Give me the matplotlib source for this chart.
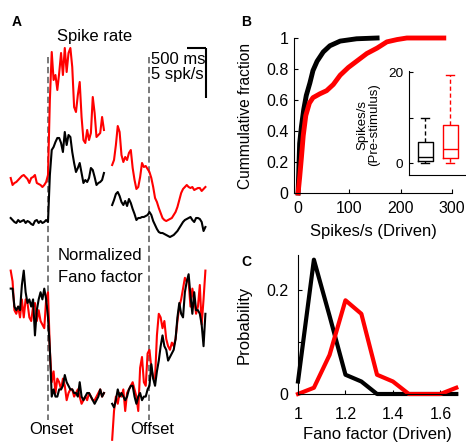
import matplotlib.pyplot as plt
import numpy as np

plt.rcParams['font.family'] = ['Liberation Sans', 'DejaVu Sans']

W, H = 466, 444

# ---------------- panel A: population traces (50 ms bins) ----------------
t_bins = np.arange(-1000, 1501, 50)          # ms around onset / offset
offset_shift = 2720                           # where the offset-aligned block sits

rate_red_on = [6.2, 5.5, 5.7, 5.8, 6.0, 6.2, 6.4, 6.5, 6.3, 6.1, 5.7, 6.2, 6.3, 6.5, 5.7,
               5.6, 5.5, 5.3, 5.5, 5.8, 6.5, 14.0, 18.8, 16.0, 16.5, 15.0, 16.7, 18.7, 16.5,
               19.2, 16.8, 18.7, 19.2, 17.3, 13.3, 12.8, 14.5, 15.8, 12.3, 10.0, 9.7, 11.0,
               10.0, 10.7, 14.3, 12.7, 10.3, 10.5, 10.7, 12.3, 11.0]
rate_black_on = [2.2, 2.0, 1.8, 1.7, 2.0, 1.8, 1.9, 2.0, 1.7, 1.9, 1.8, 1.6, 1.5, 1.9, 2.0,
                 1.7, 1.9, 1.7, 1.8, 2.0, 1.8, 6.5, 9.0, 9.3, 9.8, 10.2, 10.2, 9.7, 8.8, 10.8,
                 9.5, 10.5, 10.3, 8.8, 7.7, 6.8, 7.2, 7.7, 6.7, 5.7, 6.0, 5.8, 6.2, 7.2, 7.0,
                 6.3, 5.5, 5.7, 5.8, 6.0, 6.7]
rate_red_off = [7.5, 8.0, 9.5, 11.4, 10.8, 8.5, 7.8, 8.3, 8.0, 8.7, 9.0, 7.2, 6.0, 5.1, 5.3,
                6.3, 7.7, 7.3, 7.4, 7.1, 6.8, 6.2, 5.3, 4.2, 3.8, 3.2, 2.7, 2.2, 2.0, 1.9,
                2.0, 2.1, 2.2, 2.5, 2.8, 3.3, 4.0, 4.7, 5.1, 5.3, 5.5, 5.3, 5.2, 5.3, 5.0,
                5.1, 5.2, 5.2, 4.9, 5.1, 5.3]
rate_black_off = [3.5, 4.0, 4.6, 4.8, 4.4, 3.8, 3.5, 3.9, 3.4, 4.1, 3.7, 3.1, 2.6, 2.0, 2.2,
                  2.2, 2.3, 2.3, 2.4, 2.5, 2.8, 2.5, 1.9, 1.5, 1.1, 0.8, 0.7, 0.7, 0.6, 0.5,
                  0.4, 0.3, 0.4, 0.5, 0.7, 0.9, 1.2, 1.5, 1.8, 2.0, 2.1, 2.2, 2.3, 2.0, 1.8,
                  2.2, 2.2, 2.1, 1.8, 0.9, 1.3]

fano_red_on = [1.04, 1.01, 0.93, 0.92, 0.94, 0.91, 0.96, 0.91, 0.96, 0.95, 0.91, 0.90, 0.94,
               0.95, 0.90, 0.93, 0.90, 0.89, 0.88, 0.96, 0.98, 0.82, 0.73, 0.76, 0.70, 0.74,
               0.73, 0.71, 0.74, 0.72, 0.68, 0.70, 0.71, 0.71, 0.69, 0.70, 0.71, 0.69, 0.67,
               0.68, 0.69, 0.68, 0.70, 0.69, 0.68, 0.68, 0.69, 0.70, 0.71, 0.69, 0.70]
fano_black_on = [0.99, 0.99, 0.94, 0.93, 0.94, 0.93, 1.00, 1.04, 0.98, 0.95, 0.96, 0.94, 0.96,
                 0.86, 0.93, 0.96, 0.98, 0.96, 0.99, 0.96, 0.91, 0.82, 0.69, 0.71, 0.69, 0.69,
                 0.71, 0.71, 0.72, 0.75, 0.73, 0.72, 0.71, 0.71, 0.70, 0.70, 0.69, 0.73, 0.69,
                 0.68, 0.69, 0.70, 0.70, 0.69, 0.68, 0.67, 0.68, 0.69, 0.71, 0.69, 0.70]
fano_red_off = [0.57, 0.65, 0.69, 0.67, 0.70, 0.69, 0.71, 0.65, 0.70, 0.71, 0.72, 0.73, 0.71,
                0.69, 0.65, 0.77, 0.80, 0.73, 0.72, 0.81, 0.82, 0.77, 0.74, 0.74, 0.86, 0.92,
                0.91, 0.88, 0.90, 0.85, 0.83, 0.82, 0.84, 0.83, 0.85, 0.90, 0.94, 0.96, 0.99,
                1.02, 1.01, 1.01, 0.94, 0.99, 0.96, 0.92, 0.94, 1.00, 0.89, 0.96, 1.04]
fano_black_off = [0.67, 0.66, 0.68, 0.71, 0.69, 0.70, 0.69, 0.68, 0.69, 0.71, 0.72, 0.72, 0.69,
                  0.67, 0.69, 0.70, 0.68, 0.69, 0.69, 0.71, 0.72, 0.78, 0.74, 0.72, 0.76, 0.79,
                  0.83, 0.86, 0.83, 0.82, 0.79, 0.80, 0.81, 0.82, 0.85, 0.91, 0.95, 0.92, 0.91,
                  0.98, 1.01, 1.03, 0.97, 0.92, 0.98, 0.93, 0.93, 0.92, 0.89, 0.83, 0.92]

# ---------------- panel B: cumulative distributions + inset box plot ----------------
cdf_black_rate = [0, 3, 6.5, 11, 16, 23, 29, 37, 49, 62, 82, 114, 154]
cdf_black_frac = [0, 0.32, 0.43, 0.54, 0.63, 0.71, 0.79, 0.85, 0.91, 0.95, 0.98, 0.995, 1.0]
cdf_red_rate = [0, 3, 6.5, 10, 15, 22, 29, 42.5, 55.5, 68.6, 82, 98, 114, 134, 154, 173, 193,
                212, 284]
cdf_red_frac = [0, 0.10, 0.23, 0.37, 0.50, 0.58, 0.615, 0.64, 0.66, 0.70, 0.76, 0.81, 0.85,
                0.90, 0.935, 0.975, 0.99, 1.0, 1.0]

pre_black = dict(whislo=0.0, q1=0.4, med=1.4, q3=4.6, whishi=10.0)
pre_red = dict(whislo=0.0, q1=1.1, med=3.2, q3=8.3, whishi=19.3)

# ---------------- panel C: Fano factor distributions ----------------
ff_bins = [1.0, 1.067, 1.133, 1.2, 1.267, 1.333, 1.4, 1.467, 1.533, 1.6, 1.667]
ff_black = [0.024, 0.258, 0.15, 0.037, 0.024, 0, 0, 0, 0, 0, 0]
ff_red = [0, 0.012, 0.075, 0.18, 0.154, 0.037, 0.024, 0, 0, 0, 0.012]

FS = 12      # main text size
TS = 11.5    # tick label size

fig = plt.figure(figsize=(W / 100, H / 100), dpi=100)


def fpos(x, y):
    return x / W, 1 - y / H


def rect(x0, y0, x1, y1):
    return [x0 / W, 1 - y1 / H, (x1 - x0) / W, (y1 - y0) / H]


# ---- A ----
axA = fig.add_axes([0, 0, 233 / W, 1])
axA.set_xlim(-48 / 0.0373, (233 - 48) / 0.0373)
axA.set_ylim(-20.4, 24.0)
axA.axis('off')


def fano_y(f):
    return 36 * np.asarray(f) - 40.5


for t0 in (0, offset_shift):
    axA.plot([t0, t0], [18.3, -18.0], color='#6e6e6e', lw=1.3, ls=(0, (3.5, 2)))

axA.plot(t_bins, rate_red_on, color='red', lw=1.5)
axA.plot(t_bins, rate_black_on, color='black', lw=1.5)
axA.plot(t_bins + offset_shift, rate_red_off, color='red', lw=1.5)
axA.plot(t_bins + offset_shift, rate_black_off, color='black', lw=1.5)
axA.plot(t_bins, fano_y(fano_red_on), color='red', lw=1.5)
axA.plot(t_bins, fano_y(fano_black_on), color='black', lw=1.5)
axA.plot(t_bins + offset_shift, fano_y(fano_red_off), color='red', lw=1.5)
axA.plot(t_bins + offset_shift, fano_y(fano_black_off), color='black', lw=1.5)

t_end = (206 - 48) / 0.0373
axA.plot([t_end - 500, t_end], [19.2, 19.2], color='black', lw=1.5, solid_capstyle='butt')
axA.plot([t_end, t_end], [19.2, 14.2], color='black', lw=1.5, solid_capstyle='butt')

fig.text(*fpos(17, 22), 'A', fontsize=10, fontweight='bold', ha='center', va='center')
fig.text(*fpos(95, 37), 'Spike rate', fontsize=FS, ha='center', va='center')
fig.text(*fpos(151, 59), '500 ms', fontsize=FS, ha='left', va='center')
fig.text(*fpos(151, 74), '5 spk/s', fontsize=FS, ha='left', va='center')
fig.text(*fpos(100, 255), 'Normalized', fontsize=FS, ha='center', va='center')
fig.text(*fpos(100, 277), 'Fano factor', fontsize=FS, ha='center', va='center')
fig.text(*fpos(51, 429), 'Onset', fontsize=FS, ha='center', va='center')
fig.text(*fpos(152.5, 429), 'Offset', fontsize=FS, ha='center', va='center')


def style(ax, pad_x, pad_y, size=TS):
    for s in ('top', 'right'):
        ax.spines[s].set_visible(False)
    for s in ('left', 'bottom'):
        ax.spines[s].set_linewidth(0.8)
    ax.tick_params(direction='in', length=3, width=0.8, labelsize=size)
    ax.tick_params(axis='x', pad=pad_x)
    ax.tick_params(axis='y', pad=pad_y)


# ---- B ----
axB = fig.add_axes(rect(294, 38, 452, 193))
axB.plot(cdf_black_rate, cdf_black_frac, color='black', lw=3.5, clip_on=False)
axB.plot(cdf_red_rate, cdf_red_frac, color='red', lw=3.5, clip_on=False)
axB.set_xlim(-8, 300)
axB.set_ylim(0, 1)
axB.set_xticks([0, 100, 200, 300])
axB.set_yticks([0, 0.2, 0.4, 0.6, 0.8, 1.0])
axB.set_yticklabels(['0', '0.2', '0.4', '0.6', '0.8', '1'])
style(axB, 6, 4)
axB.set_ylabel('Cummulative fraction', fontsize=11.2)
axB.yaxis.set_label_coords(-0.26, 0.5)
axB.set_xlabel('Spikes/s (Driven)', fontsize=FS)
axB.xaxis.set_label_coords(0.5, -0.2)
fig.text(*fpos(246, 22), 'B', fontsize=10, fontweight='bold', ha='center', va='center')

# inset
axI = fig.add_axes(rect(409, 70.7, 466, 175))
stats = [dict(pre_black, label=''), dict(pre_red, label='')]
bp = axI.bxp(stats, positions=[1, 2], widths=0.6, showfliers=False, patch_artist=False,
             capwidths=0.3)
for i, c in enumerate(['black', 'red']):
    bp['boxes'][i].set(color=c, lw=1)
    bp['medians'][i].set(color=c, lw=1)
    for w in bp['whiskers'][2 * i:2 * i + 2]:
        w.set(color=c, lw=1, ls=(0, (3, 2)))
    for cp in bp['caps'][2 * i:2 * i + 2]:
        cp.set(color=c, lw=1)
axI.set_xlim(0.36, 2.64)
axI.set_ylim(-2.6, 20.3)
axI.set_xticks([])
axI.set_yticks([0, 10, 20])
axI.set_yticklabels(['0', '', '20'])
style(axI, 3, 4, size=9.7)
axI.patch.set_alpha(0)
axI.set_ylabel('Spikes/s\n(Pre-stimulus)', fontsize=9.5, linespacing=1.0)
axI.yaxis.set_label_coords(-0.51, 0.48)

# ---- C ----
axC = fig.add_axes(rect(298, 255, 457, 394))
axC.plot(ff_bins, ff_black, color='black', lw=3, clip_on=False)
axC.plot(ff_bins, ff_red, color='red', lw=3, clip_on=False)
axC.set_xlim(1, 1.67)
axC.set_ylim(0, 0.267)
axC.set_xticks([1, 1.2, 1.4, 1.6])
axC.set_xticklabels(['1', '1.2', '1.4', '1.6'])
axC.set_yticks([0, 0.1, 0.2])
axC.set_yticklabels(['0', '', '0.2'])
style(axC, 9, 7)
axC.set_ylabel('Probability', fontsize=FS)
axC.yaxis.set_label_coords(-0.29, 0.496)
axC.set_xlabel('Fano factor (Driven)', fontsize=FS)
axC.xaxis.set_label_coords(0.5, -0.237)
fig.text(*fpos(246, 262), 'C', fontsize=10, fontweight='bold', ha='center', va='center')

fig.savefig('out.png', dpi=100)
